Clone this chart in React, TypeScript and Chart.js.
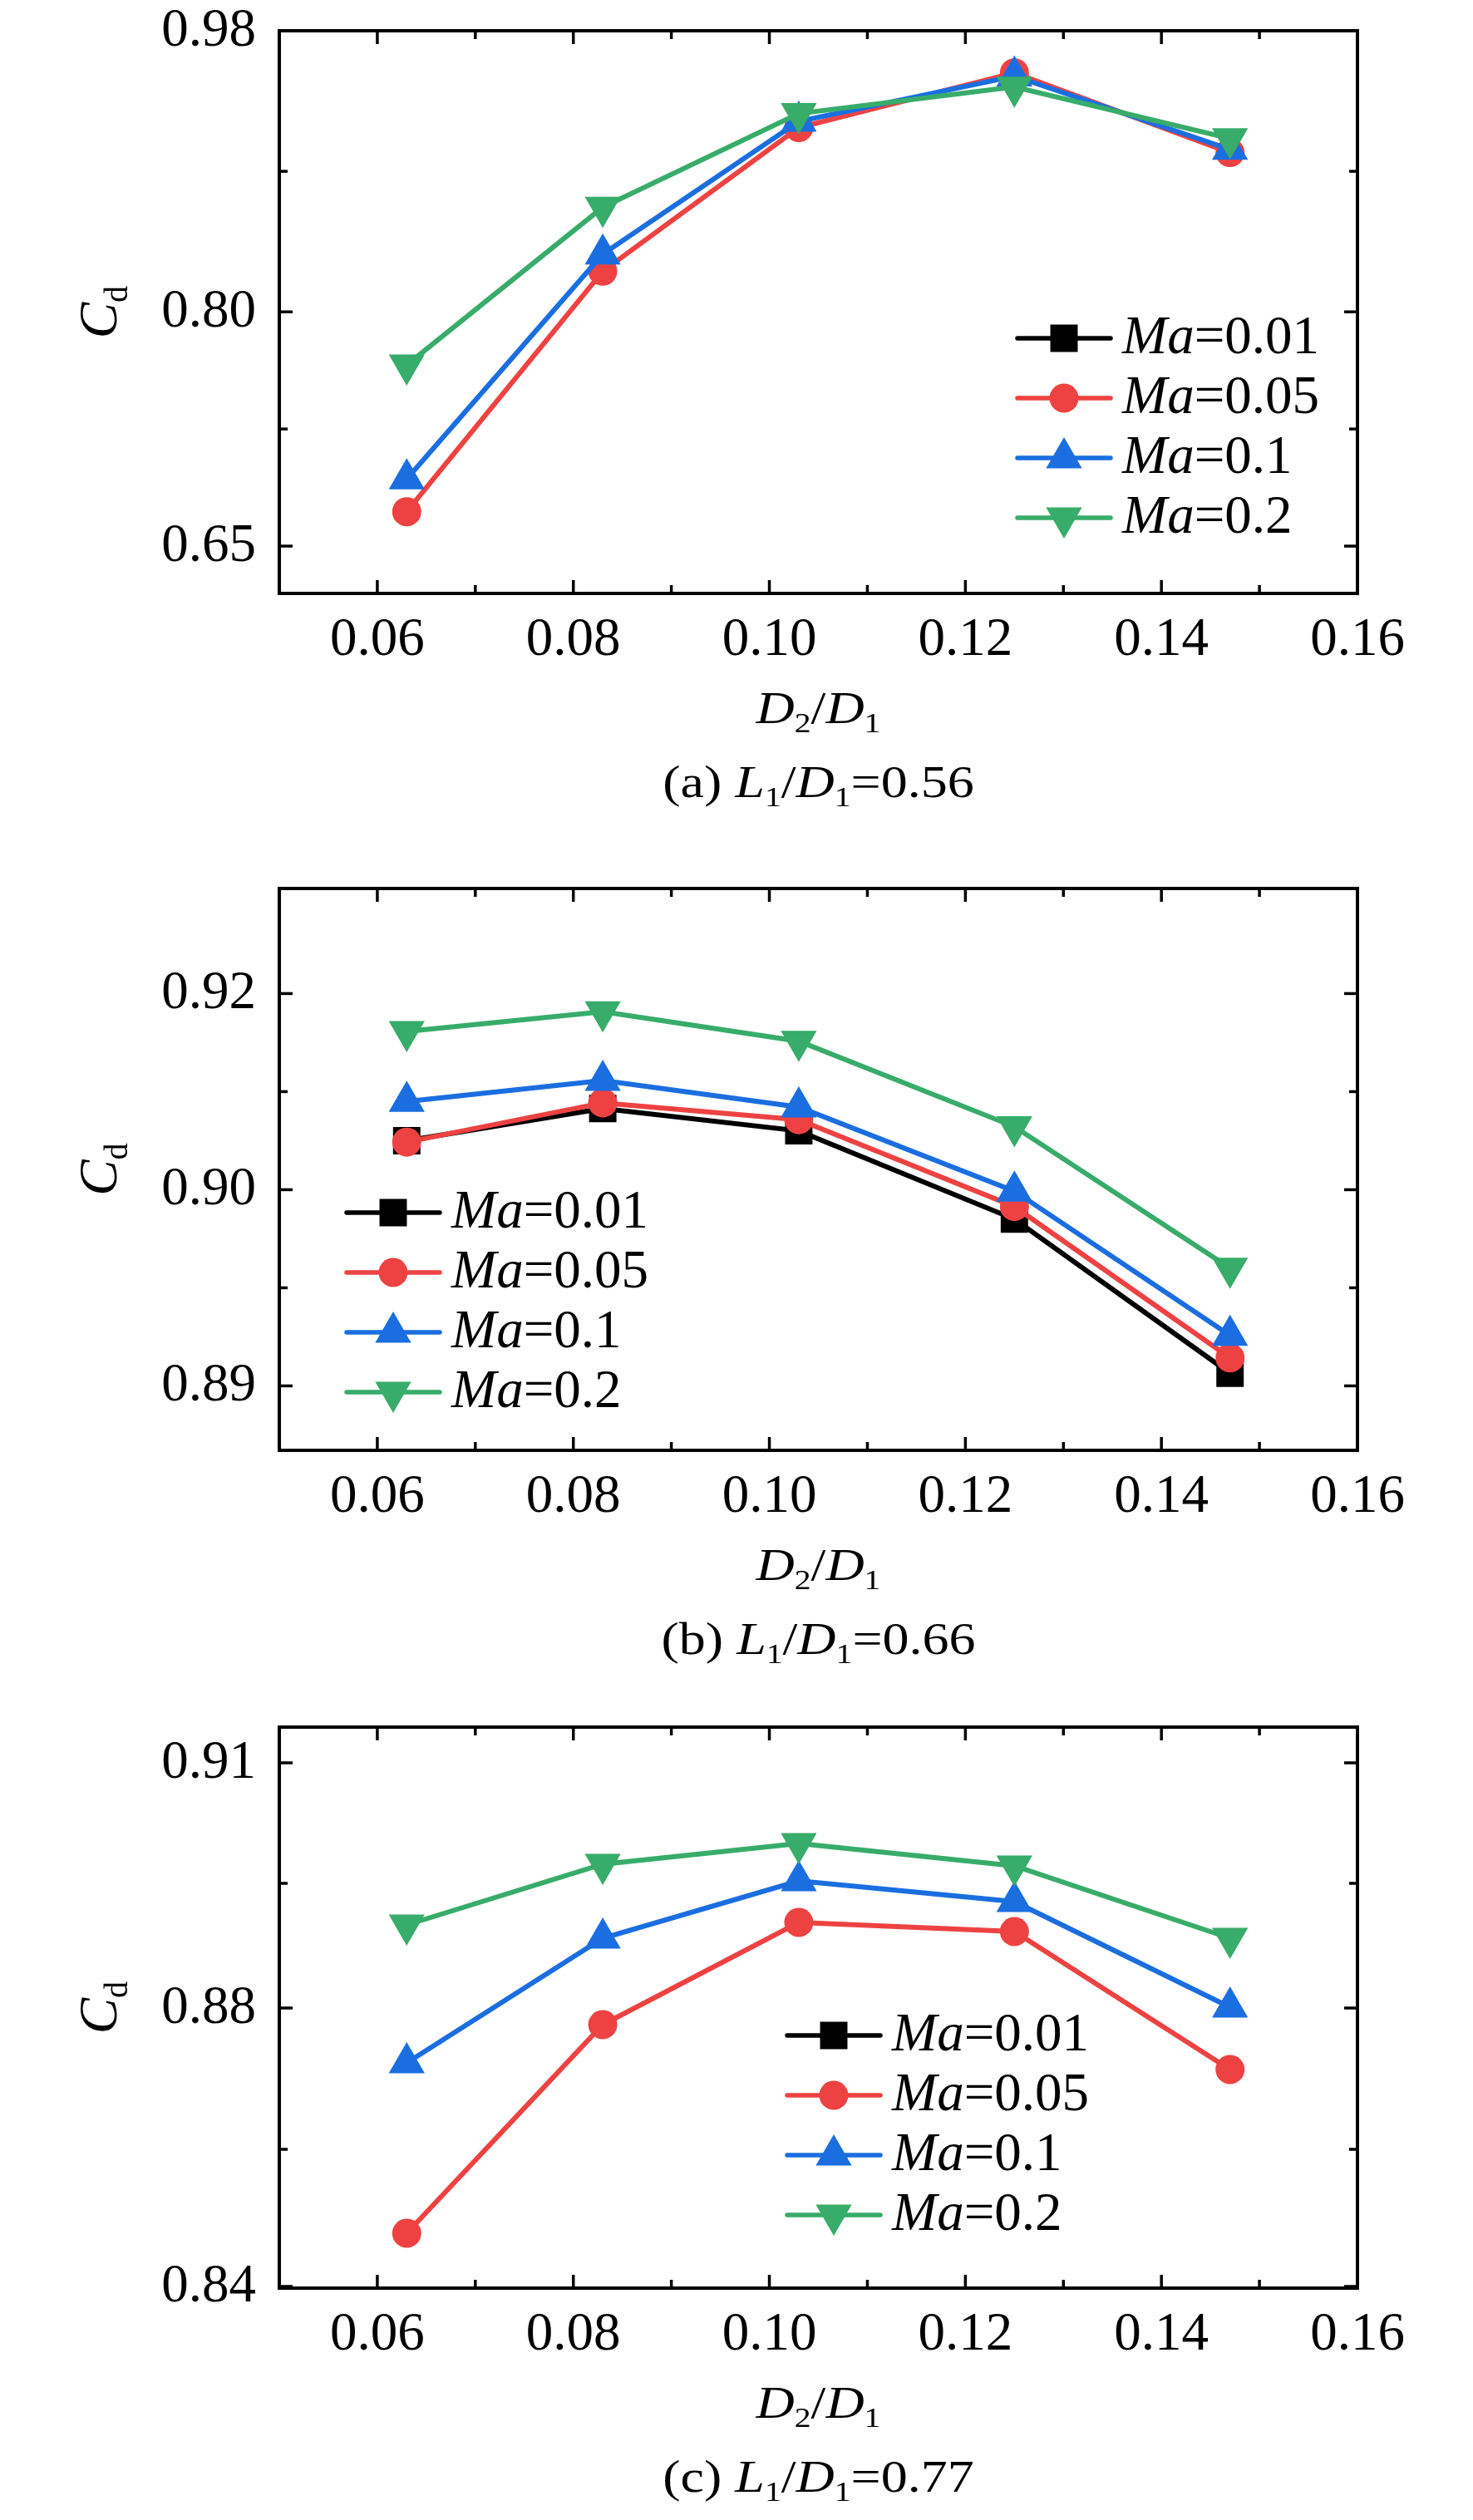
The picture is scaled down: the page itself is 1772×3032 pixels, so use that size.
import React, { useEffect, useRef } from "react";
import { Chart, registerables } from "chart.js";

Chart.register(...registerables);

// D2/D1 values used in every panel
const ratioD2D1 = [0.063, 0.083, 0.103, 0.125, 0.147];
const maLabels = ["0.01", "0.05", "0.1", "0.2"];
const maColors = ["#000000", "#ee4242", "#1b6ee0", "#38ac6a"];

// (a) L1/D1=0.56 -- the Ma=0.01 curve is not drawn here, it is only in the legend
const cdA_001: number[] = [];
const cdA_005 = [0.672, 0.826, 0.918, 0.953, 0.902];
const cdA_01 = [0.693, 0.837, 0.922, 0.951, 0.904];
const cdA_02 = [0.766, 0.867, 0.927, 0.944, 0.911];

// (b) L1/D1=0.66
const cdB_001 = [0.9085, 0.9108, 0.9092, 0.9029, 0.8919];
const cdB_005 = [0.9084, 0.9112, 0.91, 0.9038, 0.893];
const cdB_01 = [0.9113, 0.9128, 0.9109, 0.9049, 0.8946];
const cdB_02 = [0.9163, 0.9177, 0.9156, 0.9095, 0.8994];

// (c) L1/D1=0.77 -- again no Ma=0.01 curve
const cdC_001: number[] = [];
const cdC_005 = [0.8509, 0.876, 0.8883, 0.8872, 0.8706];
const cdC_01 = [0.8714, 0.8864, 0.8933, 0.8908, 0.8781];
const cdC_02 = [0.888, 0.8953, 0.8978, 0.8951, 0.8864];

// x axis ticks
const xMajor = [0.06, 0.08, 0.1, 0.12, 0.14, 0.16];
const xMinor = [0.05, 0.07, 0.09, 0.11, 0.13, 0.15];
const xTickText = ["0.06", "0.08", "0.10", "0.12", "0.14", "0.16"];

// y axis ticks (labels are rounded values as printed on the figure)
const yMajorA = [0.65, 0.8, 0.98];
const yTextA = ["0.65", "0.80", "0.98"];
const yMinorA = [0.725, 0.89];
const yMajorB = [0.891, 0.905, 0.919];
const yTextB = ["0.89", "0.90", "0.92"];
const yMinorB = [0.898, 0.912];
const yMajorC = [0.8445, 0.878, 0.9075];
const yTextC = ["0.84", "0.88", "0.91"];
const yMinorC = [0.861, 0.893];

const pointStyles = ["rect", "circle", "triangle", "triangle"];
const pointRadii = [23.3, 17.5, 25, 25];
const pointRotations = [0, 0, 0, 180];

const serif = '"Liberation Serif", "Times New Roman", serif';
const FONT = 65;

type Seg = { t: string; i?: boolean; sub?: boolean };

interface PanelSpec {
  plotTop: number;
  plotH: number;
  yMin: number;
  yMax: number;
  yMajor: number[];
  yText: string[];
  yMinor: number[];
  series: number[][];
  legendX: number;
  legendY: number;
  caption: Seg[];
}

const captionSegs = (tag: string, val: string): Seg[] => [
  { t: `(${tag}) ` },
  { t: "L", i: true },
  { t: "1", sub: true },
  { t: "/" },
  { t: "D", i: true },
  { t: "1", sub: true },
  { t: "=" + val },
];

const panels: PanelSpec[] = [
  {
    plotTop: 37, plotH: 677, yMin: 0.6197, yMax: 0.98,
    yMajor: yMajorA, yText: yTextA, yMinor: yMinorA,
    series: [cdA_001, cdA_005, cdA_01, cdA_02],
    legendX: 944, legendY: 370, caption: captionSegs("a", "0.56"),
  },
  {
    plotTop: 1069, plotH: 676, yMin: 0.8864, yMax: 0.9265,
    yMajor: yMajorB, yText: yTextB, yMinor: yMinorB,
    series: [cdB_001, cdB_005, cdB_01, cdB_02],
    legendX: 137, legendY: 390, caption: captionSegs("b", "0.66"),
  },
  {
    plotTop: 2078, plotH: 675, yMin: 0.8443, yMax: 0.9118,
    yMajor: yMajorC, yText: yTextC, yMinor: yMinorC,
    series: [cdC_001, cdC_005, cdC_01, cdC_02],
    legendX: 667, legendY: 371, caption: captionSegs("c", "0.77"),
  },
];

const CANVAS_W = 1772;
const CANVAS_H = 990;
const AREA_TOP = 37;
const AREA_LEFT = 336;
const AREA_RIGHT = 1633;

function segFont(s: Seg, size: number) {
  const fs = s.sub ? size * 0.62 : size;
  return `${s.i ? "italic " : ""}${fs}px ${serif}`;
}

function drawRich(ctx: CanvasRenderingContext2D, segs: Seg[], x0: number, baseY: number, size: number, sy: number, align: "center" | "left") {
  ctx.save();
  ctx.textAlign = "left";
  ctx.textBaseline = "alphabetic";
  let total = 0;
  const widths = segs.map((s) => {
    ctx.font = segFont(s, size);
    const w = ctx.measureText(s.t).width;
    total += w;
    return w;
  });
  ctx.translate(x0, baseY);
  ctx.scale(1, sy);
  let x = align === "center" ? -total / 2 : 0;
  segs.forEach((s, i) => {
    ctx.font = segFont(s, size);
    ctx.fillText(s.t, x, s.sub ? size * 0.2 : 0);
    x += widths[i];
  });
  ctx.restore();
}

// same geometry as Chart.js point styles, for the legend symbols
function drawMarker(ctx: CanvasRenderingContext2D, style: string, x: number, y: number, r: number, rot: number) {
  ctx.beginPath();
  if (style === "circle") {
    ctx.arc(x, y, r, 0, Math.PI * 2);
  } else if (style === "rect") {
    const s = Math.SQRT1_2 * r;
    ctx.rect(x - s, y - s, 2 * s, 2 * s);
  } else {
    let rad = (rot * Math.PI) / 180;
    ctx.moveTo(x + Math.sin(rad) * r, y - Math.cos(rad) * r);
    rad += (2 * Math.PI) / 3;
    ctx.lineTo(x + Math.sin(rad) * r, y - Math.cos(rad) * r);
    rad += (2 * Math.PI) / 3;
    ctx.lineTo(x + Math.sin(rad) * r, y - Math.cos(rad) * r);
    ctx.closePath();
  }
  ctx.fill();
}

const makeAxesPlugin = (p: PanelSpec) => ({
  id: "originAxes",
  afterDraw(chart: Chart) {
    const { ctx, chartArea: a } = chart;
    const xs = chart.scales.x;
    const ys = chart.scales.y;
    ctx.save();
    ctx.strokeStyle = "#000";
    ctx.fillStyle = "#000";
    ctx.lineCap = "butt";
    ctx.lineWidth = 3.5;
    const seg = (x1: number, y1: number, x2: number, y2: number) => {
      ctx.beginPath();
      ctx.moveTo(x1, y1);
      ctx.lineTo(x2, y2);
      ctx.stroke();
    };
    // inward ticks on all four sides
    const xTick = (v: number, len: number) => {
      const x = xs.getPixelForValue(v);
      seg(x, a.bottom, x, a.bottom - len);
      seg(x, a.top, x, a.top + len);
    };
    const yTick = (v: number, len: number) => {
      const y = ys.getPixelForValue(v);
      seg(a.left, y, a.left + len, y);
      seg(a.right, y, a.right - len, y);
    };
    xMajor.forEach((v) => xTick(v, 16));
    xMinor.forEach((v) => xTick(v, 10));
    p.yMajor.forEach((v) => yTick(v, 16));
    p.yMinor.forEach((v) => yTick(v, 10));

    ctx.lineWidth = 4;
    ctx.strokeRect(a.left, a.top, a.right - a.left, a.bottom - a.top);

    // tick labels
    ctx.font = `${FONT}px ${serif}`;
    ctx.textBaseline = "alphabetic";
    ctx.textAlign = "center";
    xMajor.forEach((v, i) => ctx.fillText(xTickText[i], xs.getPixelForValue(v), a.bottom + 74));
    ctx.textAlign = "right";
    p.yMajor.forEach((v, i) => ctx.fillText(p.yText[i], a.left - 28, ys.getPixelForValue(v) + 18));

    // axis titles and caption
    const cx = (a.left + a.right) / 2;
    drawRich(ctx, [{ t: "D", i: true }, { t: "2", sub: true }, { t: "/" }, { t: "D", i: true }, { t: "1", sub: true }], cx, a.bottom + 156, 64, 0.85, "center");
    drawRich(ctx, p.caption, cx, a.bottom + 245, 64, 0.85, "center");
    ctx.save();
    ctx.translate(140, (a.top + a.bottom) / 2);
    ctx.rotate(-Math.PI / 2);
    drawRich(ctx, [{ t: "C", i: true }, { t: "d", sub: true }], 0, 0, FONT, 1, "center");
    ctx.restore();

    // legend
    maLabels.forEach((lab, i) => {
      const mx = a.left + p.legendX;
      const my = a.top + p.legendY + i * 72;
      ctx.strokeStyle = maColors[i];
      ctx.fillStyle = maColors[i];
      ctx.lineWidth = 5.5;
      ctx.lineCap = "round";
      seg(mx - 56, my, mx + 56, my);
      drawMarker(ctx, pointStyles[i], mx, my, pointRadii[i], pointRotations[i]);
      ctx.fillStyle = "#000";
      drawRich(ctx, [{ t: "Ma", i: true }, { t: "=" + lab }], mx + 70, my + 18, FONT, 1, "left");
    });
    ctx.restore();
  },
});

function PanelChart({ spec }: { spec: PanelSpec }) {
  const canvasRef = useRef<HTMLCanvasElement>(null);

  useEffect(() => {
    if (!canvasRef.current) return;
    const chart = new Chart(canvasRef.current, {
      type: "line",
      data: {
        datasets: spec.series.map((vals, i) => ({
          label: "Ma=" + maLabels[i],
          data: vals.map((v, j) => ({ x: ratioD2D1[j], y: v })),
          borderColor: maColors[i],
          backgroundColor: maColors[i],
          pointBackgroundColor: maColors[i],
          pointBorderColor: maColors[i],
          pointBorderWidth: 0,
          borderWidth: 6,
          pointStyle: pointStyles[i] as any,
          pointRadius: pointRadii[i],
          pointHoverRadius: pointRadii[i],
          pointRotation: pointRotations[i],
          tension: 0,
          fill: false,
          order: 4 - i,
          clip: false as any,
        })),
      },
      options: {
        responsive: false,
        maintainAspectRatio: false,
        devicePixelRatio: 1,
        animation: false,
        events: [],
        layout: {
          padding: {
            left: AREA_LEFT,
            top: AREA_TOP,
            right: CANVAS_W - AREA_RIGHT,
            bottom: CANVAS_H - AREA_TOP - spec.plotH,
          },
        },
        scales: {
          x: { type: "linear", display: false, min: 0.05, max: 0.16 },
          y: { type: "linear", display: false, min: spec.yMin, max: spec.yMax },
        },
        plugins: {
          legend: { display: false },
          tooltip: { enabled: false },
        },
      },
      plugins: [makeAxesPlugin(spec)],
    });
    return () => chart.destroy();
  }, [spec]);

  return (
    <div style={{ position: "absolute", left: 0, top: spec.plotTop - AREA_TOP, width: CANVAS_W, height: CANVAS_H }}>
      <canvas ref={canvasRef} width={CANVAS_W} height={CANVAS_H} style={{ width: CANVAS_W, height: CANVAS_H, display: "block" }} />
    </div>
  );
}

export default function App() {
  useEffect(() => {
    document.body.style.margin = "0";
  }, []);

  return (
    <div style={{ position: "relative", width: 1772, height: 3032, background: "#fff", overflow: "hidden" }}>
      {panels.map((p, i) => (
        <PanelChart key={i} spec={p} />
      ))}
    </div>
  );
}
